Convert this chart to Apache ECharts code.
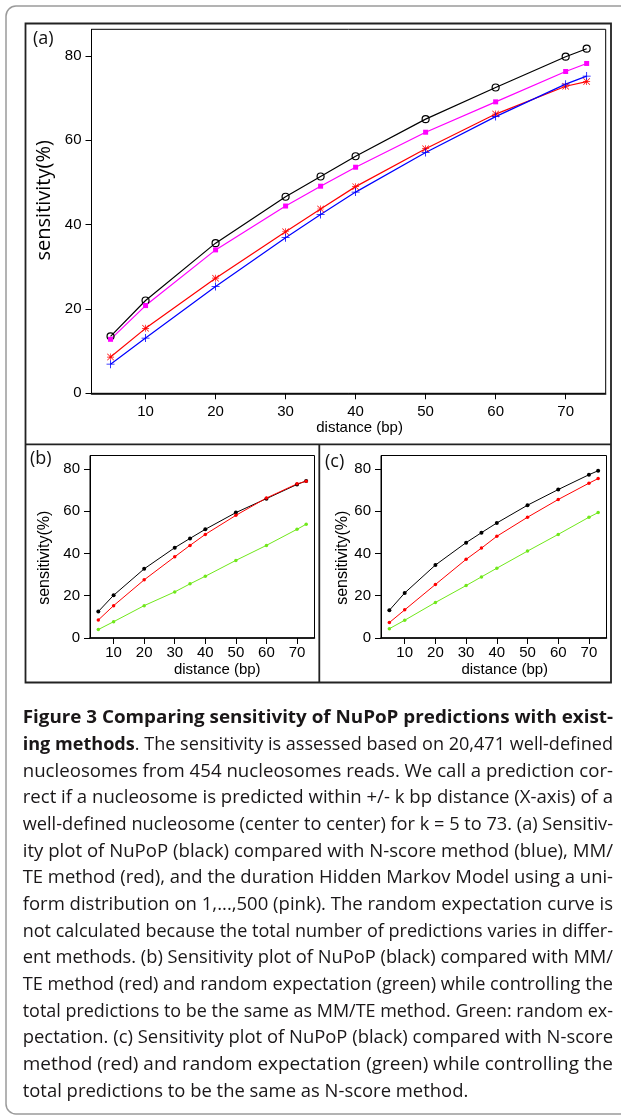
<!DOCTYPE html>
<html>
<head>
<meta charset="utf-8">
<script src="https://cdn.jsdelivr.net/npm/echarts@6/dist/echarts.min.js"></script>
<style>
  html, body { margin: 0; padding: 0; background: #fff; }
  #chart { width: 621px; height: 1115px; }
</style>
</head>
<body>
<div id="chart"></div>
<script>
// distances (bp) at which sensitivity was measured
const distance = [5, 10, 20, 30, 35, 40, 50, 60, 70, 73];
const xTicks = [10, 20, 30, 40, 50, 60, 70];
const yTicks = [0, 20, 40, 60, 80];

// panel (a)
const aNuPoP = [13.5, 22.0, 35.6, 46.6, 51.4, 56.2, 65.0, 72.5, 79.8, 81.7];
const aHmm = [12.8, 20.8, 34.0, 44.4, 49.1, 53.6, 61.9, 69.1, 76.3, 78.2];
const aMMTE = [8.6, 15.4, 27.3, 38.3, 43.7, 49.0, 58.0, 66.2, 72.8, 73.9];
const aNscore = [6.9, 13.1, 25.3, 36.9, 42.4, 47.7, 57.1, 65.6, 73.3, 75.2];

// panel (b)
const bNuPoP = [12.5, 20.2, 32.7, 42.7, 47.1, 51.4, 59.3, 65.9, 72.6, 74.3];
const bMMTE = [8.5, 15.3, 27.5, 38.4, 43.8, 49.0, 58.0, 66.2, 72.9, 74.1];
const bRandom = [4.0, 7.7, 15.3, 21.8, 25.6, 29.2, 36.7, 43.8, 51.4, 53.8];

// panel (c)
const cNuPoP = [13.1, 21.3, 34.5, 45.1, 49.8, 54.4, 62.8, 70.2, 77.2, 79.1];
const cNscore = [7.3, 13.3, 25.3, 37.2, 42.5, 48.1, 57.1, 65.5, 73.2, 75.4];
const cRandom = [4.4, 8.4, 16.8, 24.8, 28.9, 33.0, 41.1, 49.0, 57.1, 59.3];

const captionLines = [
  "{b|Figure 3 Comparing sensitivity of NuPoP predictions with exist-}",
  "{b|ing methods}. The sensitivity is assessed based on 20,471 well-defined",
  "nucleosomes from 454 nucleosomes reads. We call a prediction cor-",
  "rect if a nucleosome is predicted within +/- k bp distance (X-axis) of a",
  "well-defined nucleosome (center to center) for k = 5 to 73. (a) Sensitiv-",
  "ity plot of NuPoP (black) compared with N-score method (blue), MM/",
  "TE method (red), and the duration Hidden Markov Model using a uni-",
  "form distribution on 1,...,500 (pink). The random expectation curve is",
  "not calculated because the total number of predictions varies in differ-",
  "ent methods. (b) Sensitivity plot of NuPoP (black) compared with MM/",
  "TE method (red) and random expectation (green) while controlling the",
  "total predictions to be the same as MM/TE method. Green: random ex-",
  "pectation. (c) Sensitivity plot of NuPoP (black) compared with N-score",
  "method (red) and random expectation (green) while controlling the",
  "total predictions to be the same as N-score method."
];

const xMin = 2.28, xMax = 75.72;
const yMax = 86.3;
const tickFont = "Liberation Sans";

// R style symbols
const asterisk = "path://M9 0h2v20h-2Z M0 9h20v2h-20Z M1.4 0L20 18.6L18.6 20L0 1.4Z M18.6 0L20 1.4L1.4 20L0 18.6Z";
const plus = "path://M9 0h2v20h-2Z M0 9h20v2h-20Z";

function pairs(ys) {
  return distance.map((d, i) => [d, ys[i]]);
}

function xAxisFor(gridIndex, margin, nameGap, shift) {
  return {
    type: "value", gridIndex: gridIndex, min: xMin, max: xMax,
    axisLine: { show: true, onZero: false, lineStyle: { color: "#000", width: 1.5 } },
    axisTick: { show: true, customValues: xTicks, length: 6, lineStyle: { color: "#000" } },
    axisLabel: { customValues: xTicks, margin: margin, color: "#000", fontFamily: tickFont, fontSize: 15 },
    splitLine: { show: false },
    name: "distance (bp)", nameLocation: "middle", nameGap: nameGap,
    nameTextStyle: { color: "#000", fontFamily: tickFont, fontSize: 15, padding: [0, 0, 0, shift * 2] }
  };
}

function yAxisFor(gridIndex, nameGap, nameFont, nameSize, pad) {
  return {
    type: "value", gridIndex: gridIndex, min: 0, max: yMax,
    axisLine: { show: true, onZero: false, lineStyle: { color: "#000", width: 1 } },
    axisTick: { show: true, customValues: yTicks, length: 6, lineStyle: { color: "#000" } },
    axisLabel: { customValues: yTicks, margin: 10, color: "#000", fontFamily: tickFont, fontSize: 15 },
    splitLine: { show: false },
    name: "sensitivity(%)", nameLocation: "middle", nameGap: nameGap,
    nameTextStyle: { color: "#000", fontFamily: nameFont, fontSize: nameSize, padding: pad }
  };
}

function lineSeries(idx, ys, color, symbol, size, width, hollow) {
  return {
    type: "line", xAxisIndex: idx, yAxisIndex: idx,
    data: pairs(ys), symbol: symbol, symbolSize: size, showSymbol: true,
    lineStyle: { color: color, width: width },
    itemStyle: hollow
      ? { color: "rgba(0,0,0,0)", borderColor: color, borderWidth: 1.2 }
      : { color: color, borderWidth: 0 },
    z: 3
  };
}

// caption: one text per line, stretched to the justified width
const capFont = '"Open Sans"';
const capSize = 18;
const capLeft = 22.7, capRight = 613;
const capTop = 718.3, capStep = 26.67;

function measure(line) {
  const ctx = document.createElement("canvas").getContext("2d");
  let w = 0;
  const parts = line.split(/(\{b\|[^}]*\})/);
  parts.forEach((p) => {
    if (!p) return;
    const m = p.match(/^\{b\|([^}]*)\}$/);
    ctx.font = (m ? "700 " : "400 ") + capSize + "px " + capFont;
    w += ctx.measureText(m ? m[1] : p).width;
  });
  return w;
}

function captionGraphics() {
  const widths = captionLines.map(measure);
  const scales = widths.map((w) => (capRight - capLeft) / w);
  const sorted = scales.slice(0, -1).sort((a, b) => a - b);
  const median = sorted[Math.floor(sorted.length / 2)];
  return captionLines.map((line, i) => ({
    type: "text",
    x: capLeft,
    y: capTop + i * capStep,
    scaleX: i === captionLines.length - 1 ? median : scales[i],
    style: {
      text: line, x: 0, y: 0,
      font: "400 " + capSize + "px " + capFont,
      fill: "#1a1718",
      align: "left", verticalAlign: "middle",
      rich: { b: { fontFamily: "Open Sans", fontWeight: 700, fontSize: capSize, fill: "#1a1718", color: "#1a1718" } }
    }
  }));
}

function renderChart() {
  const chart = echarts.init(document.getElementById("chart"));

  const frames = [
    { type: "rect", shape: { x: 6, y: 6, width: 640, height: 1108, r: 10 },
      style: { fill: "none", stroke: "#9a9a9a", lineWidth: 1.5 } },
    { type: "rect", shape: { x: 25.5, y: 23.5, width: 585.5, height: 659 },
      style: { fill: "none", stroke: "#222", lineWidth: 1.8 } },
    { type: "line", shape: { x1: 25.5, y1: 444.3, x2: 611, y2: 444.3 },
      style: { stroke: "#222", lineWidth: 1.8 } },
    { type: "line", shape: { x1: 319.3, y1: 444.3, x2: 319.3, y2: 682.5 },
      style: { stroke: "#222", lineWidth: 1.8 } }
  ];

  const panelLabels = [
    ["(a)", 33, 38.5],
    ["(b)", 30, 458.5],
    ["(c)", 325, 461.5]
  ].map(([t, x, y]) => ({
    type: "text", x: x, y: y,
    style: { text: t, font: '18px "Open Sans"', fill: "#111", align: "left", verticalAlign: "middle" }
  }));

  const options = {
    animation: false,
    backgroundColor: "#fff",
    grid: [
      { left: 91.5, top: 29.3, width: 514.2, height: 364, show: true, borderColor: "#000", borderWidth: 1 },
      { left: 90, top: 455.5, width: 224.5, height: 182.5, show: true, borderColor: "#000", borderWidth: 1 },
      { left: 381, top: 455.5, width: 225.5, height: 182.5, show: true, borderColor: "#000", borderWidth: 1 }
    ],
    xAxis: [
      xAxisFor(0, 11, 27, 11),
      xAxisFor(1, 7, 24, 15),
      xAxisFor(2, 7, 24, 11)
    ],
    yAxis: [
      yAxisFor(0, 36, "Open Sans", 20, [0, 0, 0, 22]),
      yAxisFor(1, 37, tickFont, 16, [0, 22, 0, 0]),
      yAxisFor(2, 30, tickFont, 16, [0, 22, 0, 0])
    ],
    series: [
      lineSeries(0, aNuPoP, "#000000", "circle", 7, 1.2, true),
      lineSeries(0, aHmm, "#ff00ff", "rect", 5, 1.2, false),
      lineSeries(0, aMMTE, "#ff0000", asterisk, 7, 1.2, false),
      lineSeries(0, aNscore, "#0000ff", plus, 8, 1.2, false),
      lineSeries(1, bNuPoP, "#000000", "circle", 4, 1, false),
      lineSeries(1, bMMTE, "#ff0000", "circle", 3.5, 1, false),
      lineSeries(1, bRandom, "#70e81a", "circle", 3.5, 1, false),
      lineSeries(2, cNuPoP, "#000000", "circle", 4, 1, false),
      lineSeries(2, cNscore, "#ff0000", "circle", 3.5, 1, false),
      lineSeries(2, cRandom, "#70e81a", "circle", 3.5, 1, false)
    ],
    graphic: frames.concat(panelLabels, captionGraphics())
  };

  chart.setOption(options);
}

document.addEventListener("DOMContentLoaded", renderChart);
</script>
</body>
</html>
